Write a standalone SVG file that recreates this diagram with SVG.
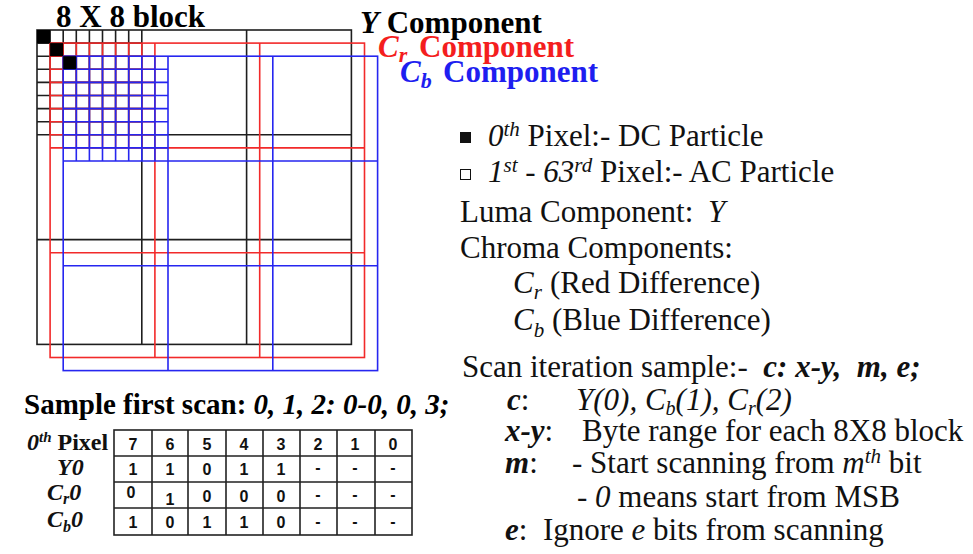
<svg xmlns="http://www.w3.org/2000/svg" width="973" height="554" viewBox="0 0 973 554">
  <style>
    .serif { font-family: "Liberation Serif", "Times New Roman", serif; }
    .sans { font-family: "Liberation Sans", Arial, sans-serif; }
    .b { font-weight: bold; }
    .i { font-style: italic; }
    .head { font-size: 31px; font-weight: bold; }
    .note { font-size: 31px; fill: #111; }
    .lbl { font-size: 24px; font-weight: bold; font-style: italic; }
    .cell { font-size: 16px; font-weight: bold; text-anchor: middle; fill: #111; }
    .grid { fill: none; stroke-width: 1.6; }
    .tbl { fill: none; stroke: #222; stroke-width: 1.6; }
  </style>
  <defs>
    <!-- one component plane: 3x3 blocks of 8x8 pixels, first block subdivided -->
    <g id="plane">
      <rect x="0" y="0" width="314.4" height="314.4"/>
      <path d="M104.8 0V314.4M209.6 0V314.4M0 104.8H314.4M0 209.6H314.4"/>
      <path d="M13.1 0V104.8M26.2 0V104.8M39.3 0V104.8M52.4 0V104.8M65.5 0V104.8M78.6 0V104.8M91.7 0V104.8
               M0 13.1H104.8M0 26.2H104.8M0 39.3H104.8M0 52.4H104.8M0 65.5H104.8M0 78.6H104.8M0 91.7H104.8"/>
    </g>
  </defs>
  <rect width="973" height="554" fill="#fff"/>

  <!-- component planes -->
  <g id="planes" class="grid">
    <use href="#plane" x="37" y="30" stroke="#1e1e1e"/>
    <use href="#plane" x="50.1" y="43.1" stroke="#f22a2a"/>
    <use href="#plane" x="63.2" y="56.2" stroke="#2626f0"/>
  </g>
  <g id="dc-pixels" fill="#000">
    <rect x="37" y="30" width="13.1" height="13.1"/>
    <rect x="50.1" y="43.1" width="13.1" height="13.1"/>
    <rect x="63.2" y="56.2" width="13.1" height="13.1"/>
  </g>

  <!-- headings -->
  <g id="headings" class="serif head">
    <text x="56" y="27" fill="#000">8 X 8 block</text>
    <text x="360" y="33" fill="#000"><tspan class="i">Y</tspan> Component</text>
    <text x="378" y="57" fill="#f41e1e"><tspan class="i">C</tspan><tspan class="i" font-size="22" dy="5">r</tspan><tspan dy="-5" x="419">Component</tspan></text>
    <text x="400" y="82" fill="#1e1ef0"><tspan class="i">C</tspan><tspan class="i" font-size="22" dy="6">b</tspan><tspan dy="-6" x="443">Component</tspan></text>
  </g>

  <!-- legend -->
  <g id="legend" class="serif note">
    <rect x="460" y="132" width="11" height="11" fill="#111"/>
    <rect x="460.5" y="169.5" width="10" height="10" fill="none" stroke="#111" stroke-width="1"/>
    <text x="488" y="146"><tspan class="i">0</tspan><tspan class="i" font-size="21" dy="-10">th</tspan><tspan dy="10"> Pixel:- DC Particle</tspan></text>
    <text x="488" y="182"><tspan class="i">1</tspan><tspan class="i" font-size="21" dy="-10">st</tspan><tspan dy="10"> - </tspan><tspan class="i">63</tspan><tspan class="i" font-size="21" dy="-10">rd</tspan><tspan dy="10"> Pixel:- AC Particle</tspan></text>
    <text x="460" y="222">Luma Component:<tspan class="i" x="708">Y</tspan></text>
    <text x="460" y="258">Chroma Components:</text>
    <text x="513" y="293"><tspan class="i">C</tspan><tspan class="i" font-size="21" dy="6">r</tspan><tspan dy="-6" x="550">(Red Difference)</tspan></text>
    <text x="513" y="330"><tspan class="i">C</tspan><tspan class="i" font-size="21" dy="7">b</tspan><tspan dy="-7" x="552">(Blue Difference)</tspan></text>
  </g>

  <!-- scan iteration description -->
  <g id="scan-notes" class="serif note">
    <text x="462" y="377" xml:space="preserve">Scan iteration sample:-  <tspan class="b i">c: x-y,  m, e;</tspan></text>
    <text x="507" y="410"><tspan class="b i">c</tspan>:</text>
    <text x="576" y="410" class="i">Y(0), C<tspan font-size="20" dy="5">b</tspan><tspan dy="-5">(1), C</tspan><tspan font-size="20" dy="5">r</tspan><tspan dy="-5">(2)</tspan></text>
    <text x="505" y="441"><tspan class="b i">x-y</tspan>:</text>
    <text x="582" y="441">Byte range for each 8X8 block</text>
    <text x="505" y="473"><tspan class="b i">m</tspan>:</text>
    <text x="572" y="473">- Start scanning from <tspan class="i">m</tspan><tspan class="i" font-size="21" dy="-10">th</tspan><tspan dy="10"> bit</tspan></text>
    <text x="577" y="507">- <tspan class="i">0</tspan> means start from MSB</text>
    <text x="505" y="540" xml:space="preserve"><tspan class="b i">e</tspan>:  Ignore <tspan class="i">e</tspan> bits from scanning</text>
  </g>

  <!-- first scan sample -->
  <g id="sample-title" class="serif b" font-size="29">
    <text x="24" y="414">Sample first scan: <tspan class="i">0, 1, 2: 0-0, 0, 3;</tspan></text>
  </g>

  <g id="row-labels" class="serif lbl" fill="#111">
    <text x="27" y="450">0<tspan font-size="15" dy="-8">th</tspan><tspan dy="8" font-style="normal"> Pixel</tspan></text>
    <text x="57" y="475">Y0</text>
    <text x="47" y="500">C<tspan font-size="16" dy="4">r</tspan><tspan dy="-4">0</tspan></text>
    <text x="47" y="527">C<tspan font-size="16" dy="5">b</tspan><tspan dy="-5">0</tspan></text>
  </g>

  <g id="bit-table">
    <rect class="tbl" x="114" y="430" width="298" height="105"/>
    <path class="tbl" d="M114 456H412M114 482H412M114 508H412
      M152 430V535M188 430V535M226 430V535M263 430V535M300 430V535M337 430V535M375 430V535"/>
    <g class="sans cell">
      <text x="133" y="450">7</text><text x="170" y="450">6</text><text x="207" y="450">5</text><text x="244" y="450">4</text>
      <text x="281" y="450">3</text><text x="318" y="450">2</text><text x="355" y="450">1</text><text x="393" y="450">0</text>

      <text x="133" y="475">1</text><text x="170" y="475">1</text><text x="207" y="475">0</text><text x="244" y="475">1</text>
      <text x="281" y="475">1</text><text x="318" y="473">-</text><text x="355" y="473">-</text><text x="393" y="473">-</text>

      <text x="131" y="498">0</text><text x="170" y="505">1</text><text x="207" y="502">0</text><text x="244" y="502">0</text>
      <text x="281" y="502">0</text><text x="318" y="500">-</text><text x="355" y="500">-</text><text x="393" y="500">-</text>

      <text x="133" y="528">1</text><text x="170" y="528">0</text><text x="207" y="528">1</text><text x="244" y="528">1</text>
      <text x="281" y="528">0</text><text x="318" y="527">-</text><text x="355" y="527">-</text><text x="393" y="527">-</text>
    </g>
  </g>
</svg>
